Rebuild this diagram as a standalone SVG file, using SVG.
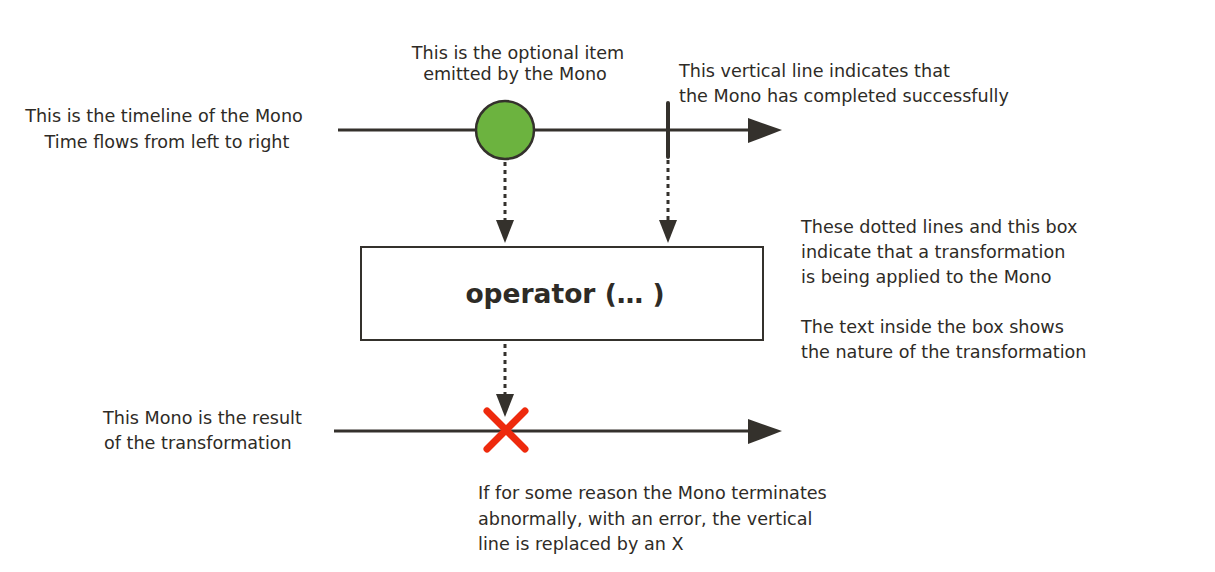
<svg xmlns="http://www.w3.org/2000/svg" width="1215" height="572" viewBox="0 0 1215 572">
<style>
.t{font-family:"DejaVu Sans","Liberation Sans",sans-serif;font-size:17.6px;fill:#2e2b26}
.tl{stroke:#34312c;stroke-width:3;fill:none}
.dot{stroke:#34312c;stroke-width:3;stroke-dasharray:4 4;fill:none}
.ah{fill:#34312c}
</style>
<rect width="1215" height="572" fill="#fff"/>
<g id="connectors">
<line class="tl" x1="338" y1="130" x2="752" y2="130"/>
<polygon class="ah" points="748,118 782,130 748,143"/>
<line class="tl" x1="334" y1="431" x2="752" y2="431"/>
<polygon class="ah" points="748,419 782,431 748,444"/>
<line class="dot" x1="505" y1="162" x2="505" y2="222"/>
<polygon class="ah" points="496,220 514,220 505,243"/>
<line class="dot" x1="668" y1="160" x2="668" y2="222"/>
<polygon class="ah" points="659,220 677,220 668,243"/>
<line class="dot" x1="505" y1="344" x2="505" y2="396"/>
<polygon class="ah" points="496,394 514,394 505,417"/>
</g>
<g id="item">
<circle cx="505" cy="130" r="29" fill="#6cb33f" stroke="#34312c" stroke-width="2.5"/>
</g>
<g id="complete">
<line x1="668" y1="103" x2="668" y2="157" stroke="#34312c" stroke-width="4" stroke-linecap="round"/>
</g>
<g id="operator">
<rect x="361" y="247" width="402" height="93" fill="#fff" stroke="#34312c" stroke-width="2"/>
<text x="565" y="303" text-anchor="middle" font-family="DejaVu Sans,Liberation Sans,sans-serif" font-weight="bold" font-size="26.5" fill="#2e2b26">operator (… )</text>
</g>
<g id="error">
<path d="M487 411 L525 449 M525 411 L487 449" stroke="#ee2a0d" stroke-width="7" stroke-linecap="round"/>
</g>
<g id="labels">
<text class="t" text-anchor="middle"><tspan x="164" y="122">This is the timeline of the Mono</tspan><tspan x="167" y="148">Time flows from left to right</tspan></text>
<text class="t" text-anchor="middle"><tspan x="518" y="59">This is the optional item</tspan><tspan x="515" y="80">emitted by the Mono</tspan></text>
<text class="t"><tspan x="679" y="77">This vertical line indicates that</tspan><tspan x="679" y="102">the Mono has completed successfully</tspan></text>
<text class="t"><tspan x="801" y="233">These dotted lines and this box</tspan><tspan x="801" y="258">indicate that a transformation</tspan><tspan x="801" y="283">is being applied to the Mono</tspan><tspan x="801" y="333">The text inside the box shows</tspan><tspan x="801" y="358">the nature of the transformation</tspan></text>
<text class="t"><tspan x="103" y="424">This Mono is the result</tspan><tspan x="104" y="449">of the transformation</tspan></text>
<text class="t"><tspan x="478" y="499">If for some reason the Mono terminates</tspan><tspan x="478" y="525">abnormally, with an error, the vertical</tspan><tspan x="478" y="550">line is replaced by an X</tspan></text>
</g>
</svg>
